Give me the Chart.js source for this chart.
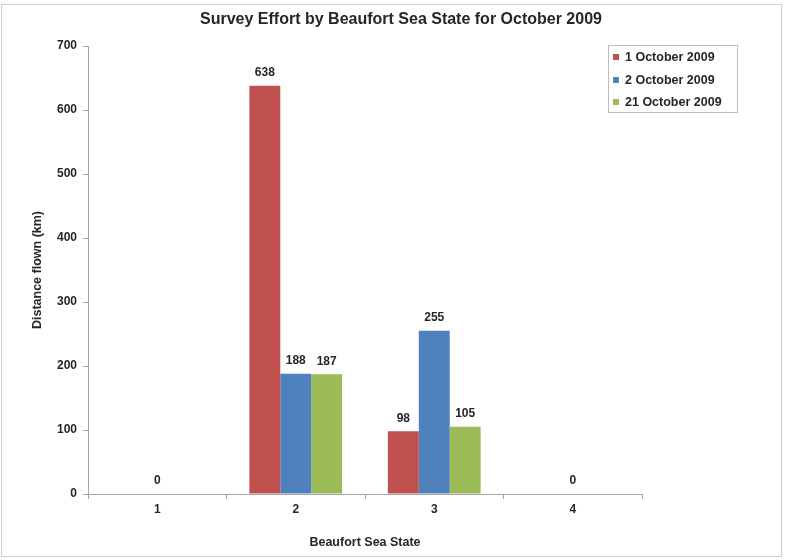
<!DOCTYPE html>
<html>
<head>
<meta charset="utf-8">
<script src="https://cdn.jsdelivr.net/npm/chart.js@4/dist/chart.umd.min.js"></script>
<style>
  html, body { margin: 0; padding: 0; background: #fff; }
  #wrap { width: 785px; height: 560px; }
</style>
</head>
<body>
<div id="wrap"><canvas id="chart" width="785" height="560"></canvas></div>
<script>
// Beaufort sea state categories
const seaStates = ["1", "2", "3", "4"]
const seriesNames = ["1 October 2009", "2 October 2009", "21 October 2009"]
// distance flown (km); null where no bar was drawn
const oct1 = [null, 638, 98, null]
const oct2 = [0, 188, 255, 0]
const oct21 = [null, 187, 105, null]
const yTicks = [0, 100, 200, 300, 400, 500, 600, 700]

const colors = ["#C0504D", "#4F81BD", "#9BBB59"]
const textColor = "#262626"
const fontFamily = "'Liberation Sans', Arial, sans-serif"

// title, value labels, legend box and outer frame
const decorPlugin = {
  id: "decor",
  afterDatasetsDraw(chart) {
    const ctx = chart.ctx
    ctx.save()
    ctx.fillStyle = textColor
    ctx.textAlign = "center"
    ctx.textBaseline = "middle"
    ctx.font = "bold 12px " + fontFamily
    chart.data.datasets.forEach((ds, i) => {
      const meta = chart.getDatasetMeta(i)
      meta.data.forEach((bar, j) => {
        const v = ds.data[j]
        if (v === null || v === undefined) return
        ctx.fillText(String(v), bar.x, bar.y - 13)
      })
    })
    ctx.restore()
  },
  afterDraw(chart) {
    const ctx = chart.ctx
    ctx.save()
    // outer frame
    ctx.strokeStyle = "#cfcfcf"
    ctx.lineWidth = 1
    ctx.strokeRect(1.5, 4.5, 780, 552)

    // title
    ctx.fillStyle = textColor
    ctx.textAlign = "center"
    ctx.textBaseline = "middle"
    ctx.font = "bold 16px " + fontFamily
    ctx.fillText("Survey Effort by Beaufort Sea State for October 2009", 401, 20)

    // legend
    ctx.strokeStyle = "#bdbdbd"
    ctx.strokeRect(608.5, 45.5, 129, 67)
    ctx.textAlign = "left"
    ctx.font = "bold 12.5px " + fontFamily
    const rows = [57, 80, 102]
    seriesNames.forEach((name, i) => {
      ctx.fillStyle = colors[i]
      ctx.fillRect(613, rows[i] - 3, 6, 6)
      ctx.fillStyle = textColor
      ctx.fillText(name, 625, rows[i] + 1)
    })
    ctx.restore()
  }
}

const ctx = document.getElementById("chart")
const chart = new Chart(ctx, {
  type: "bar",
  data: {
    labels: seaStates,
    datasets: [
      { label: seriesNames[0], data: oct1, backgroundColor: colors[0] },
      { label: seriesNames[1], data: oct2, backgroundColor: colors[1] },
      { label: seriesNames[2], data: oct21, backgroundColor: colors[2] }
    ]
  },
  options: {
    responsive: false,
    animation: false,
    devicePixelRatio: 1,
    layout: { padding: { left: 30, right: 143, top: 46, bottom: 10 } },
    datasets: { bar: { barPercentage: 1.0, categoryPercentage: 0.67 } },
    plugins: {
      legend: { display: false },
      title: { display: false },
      tooltip: { enabled: false }
    },
    scales: {
      x: {
        grid: { display: true, drawOnChartArea: false, drawTicks: true, tickLength: 5, color: "#a6a6a6", offset: true },
        border: { color: "#a6a6a6" },
        ticks: { color: textColor, font: { family: fontFamily, size: 12, weight: "bold" }, padding: 3 },
        title: { display: true, text: "Beaufort Sea State", color: textColor, font: { family: fontFamily, size: 12.5, weight: "bold" }, padding: 0 },
        afterFit(scale) { scale.height = 56 }
      },
      y: {
        min: 0,
        max: 700,
        afterBuildTicks(scale) { scale.ticks = yTicks.map(v => ({ value: v })) },
        grid: { display: true, drawOnChartArea: false, drawTicks: true, tickLength: 5, color: "#a6a6a6" },
        border: { color: "#a6a6a6" },
        ticks: { color: textColor, font: { family: fontFamily, size: 12, weight: "bold" }, padding: 6 },
        title: { display: true, text: "Distance flown (km)", color: textColor, font: { family: fontFamily, size: 12.5, weight: "bold" }, padding: 0 },
        afterFit(scale) { scale.width = 58 }
      }
    }
  },
  plugins: [decorPlugin]
})
</script>
</body>
</html>
